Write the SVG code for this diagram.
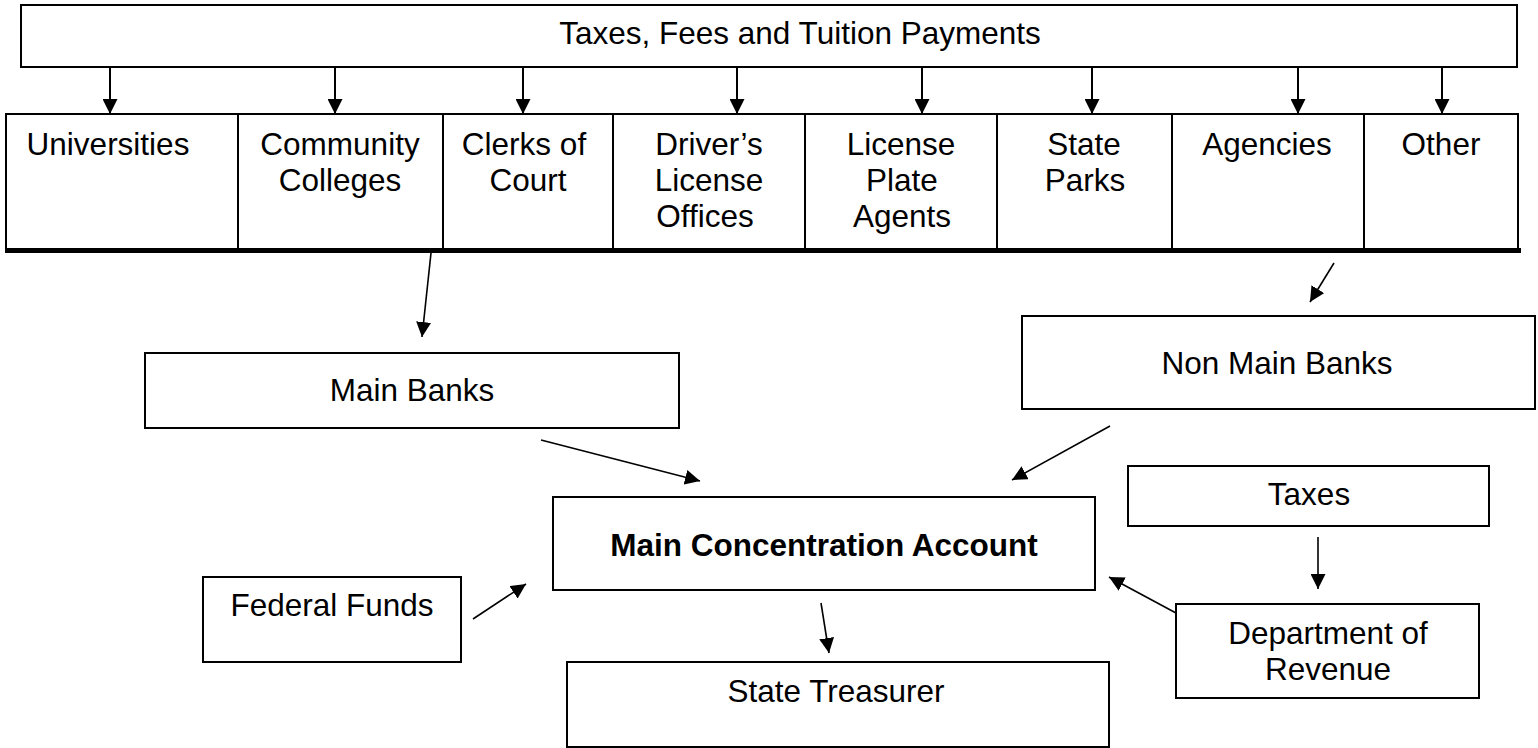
<svg xmlns="http://www.w3.org/2000/svg" width="1538" height="748" viewBox="0 0 1538 748">
<defs>
<style>
.box{fill:#fff;stroke:#000;stroke-width:2}
.cell{fill:none;stroke:#000;stroke-width:2}
.t{font-family:"Liberation Sans",Arial,sans-serif;font-size:31.5px;fill:#000;text-anchor:middle}
.b{font-weight:bold}
.c{fill:none;stroke:#000;stroke-width:1.6;marker-end:url(#ah)}
.cv{fill:none;stroke:#000;stroke-width:2;marker-end:url(#ah)}
</style>
<marker id="ah" viewBox="0 0 15 15" refX="15" refY="7.5" markerWidth="15" markerHeight="15" markerUnits="userSpaceOnUse" orient="auto">
<path d="M0,0 L15,7.5 L0,15 z" fill="#000"/>
</marker>
</defs>
<rect width="1538" height="748" fill="#fff"/>

<g id="top">
<rect class="box" x="21" y="5" width="1496" height="62"/>
<text class="t" x="800" y="44">Taxes, Fees and Tuition Payments</text>
</g>

<g id="row">
<g id="universities"><rect class="cell" x="6" y="114" width="232" height="136"/><text class="t" x="108" y="155">Universities</text></g>
<g id="community"><rect class="cell" x="238" y="114" width="205" height="136"/><text class="t" y="155"><tspan x="340">Community</tspan><tspan x="340" dy="36">Colleges</tspan></text></g>
<g id="clerks"><rect class="cell" x="443" y="114" width="170" height="136"/><text class="t" y="155"><tspan x="524">Clerks of</tspan><tspan x="528" dy="36">Court</tspan></text></g>
<g id="drivers"><rect class="cell" x="613" y="114" width="192" height="136"/><text class="t" y="155"><tspan x="709">Driver’s</tspan><tspan x="709" dy="36">License</tspan><tspan x="705" dy="36">Offices</tspan></text></g>
<g id="plates"><rect class="cell" x="805" y="114" width="192" height="136"/><text class="t" y="155"><tspan x="901">License</tspan><tspan x="902" dy="36">Plate</tspan><tspan x="902" dy="36">Agents</tspan></text></g>
<g id="parks"><rect class="cell" x="997" y="114" width="175" height="136"/><text class="t" y="155"><tspan x="1084">State</tspan><tspan x="1085" dy="36">Parks</tspan></text></g>
<g id="agencies"><rect class="cell" x="1172" y="114" width="192" height="136"/><text class="t" x="1267" y="155">Agencies</text></g>
<g id="other"><rect class="cell" x="1364" y="114" width="154" height="136"/><text class="t" x="1441" y="155">Other</text></g>
<line x1="5" y1="250.5" x2="1521" y2="250.5" stroke="#000" stroke-width="5"/>
</g>

<g id="mainbanks"><rect class="box" x="145" y="353" width="534" height="75"/><text class="t" x="412" y="401">Main Banks</text></g>
<g id="nonmainbanks"><rect class="box" x="1022" y="316" width="513" height="93"/><text class="t" x="1277" y="374">Non Main Banks</text></g>
<g id="mca"><rect class="box" x="553" y="497" width="542" height="93"/><text class="t b" x="824" y="556">Main Concentration Account</text></g>
<g id="taxes"><rect class="box" x="1128" y="466" width="361" height="60"/><text class="t" x="1309" y="505">Taxes</text></g>
<g id="federal"><rect class="box" x="203" y="577" width="258" height="85"/><text class="t" x="332" y="616">Federal Funds</text></g>
<g id="dor"><rect class="box" x="1176" y="604" width="303" height="94"/><text class="t" y="644"><tspan x="1328">Department of</tspan><tspan x="1328" dy="36">Revenue</tspan></text></g>
<g id="treasurer"><rect class="box" x="567" y="662" width="542" height="85"/><text class="t" x="836" y="702">State Treasurer</text></g>

<g id="connectors">
<line class="cv" x1="110" y1="67" x2="110" y2="114"/>
<line class="cv" x1="335" y1="67" x2="335" y2="114"/>
<line class="cv" x1="523" y1="67" x2="523" y2="114"/>
<line class="cv" x1="737" y1="67" x2="737" y2="114"/>
<line class="cv" x1="922" y1="67" x2="922" y2="114"/>
<line class="cv" x1="1092" y1="67" x2="1092" y2="114"/>
<line class="cv" x1="1298" y1="67" x2="1298" y2="114"/>
<line class="cv" x1="1442" y1="67" x2="1442" y2="114"/>
<line class="c" x1="431" y1="253" x2="422" y2="337"/>
<line class="c" x1="1334" y1="263" x2="1310" y2="302"/>
<line class="c" x1="541" y1="440" x2="700" y2="481"/>
<line class="c" x1="1110" y1="426" x2="1012" y2="480"/>
<line class="c" x1="473" y1="619" x2="526" y2="584"/>
<line class="c" x1="821" y1="603" x2="829" y2="653"/>
<line class="c" x1="1318" y1="537" x2="1318" y2="589"/>
<line class="c" x1="1176" y1="613" x2="1109" y2="577"/>
</g>
</svg>
